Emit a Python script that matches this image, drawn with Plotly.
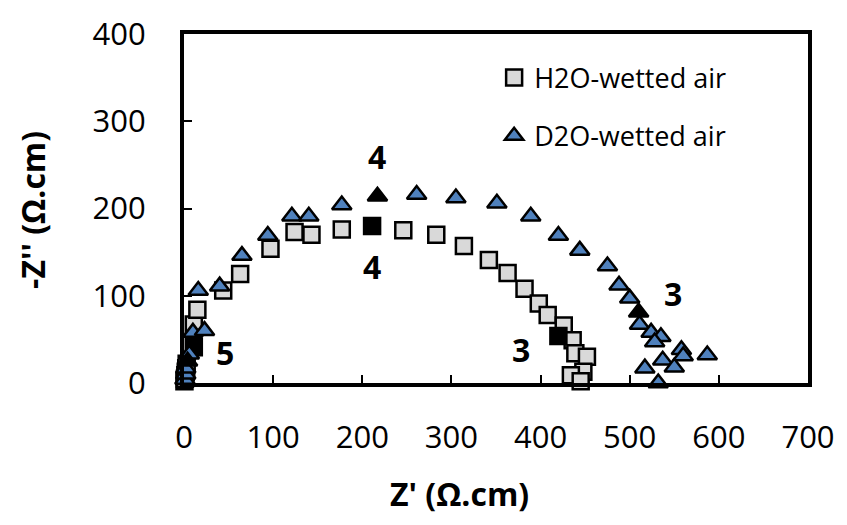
import plotly.graph_objects as go

# H2O-wetted air (grey squares)
h2o_x = [0.5, 1, 1.5, 2, 2.5, 3, 11, 15, 44, 63, 97, 124, 143, 177, 246, 283, 314, 342,
         363, 382, 398, 408, 426, 436, 439, 452, 448, 434, 445]
h2o_y = [2, 5, 9, 13, 17, 22, 67, 84, 106, 125, 154, 173, 170, 176, 175, 170, 157, 141,
         126, 108, 91, 78, 66, 49, 34, 30, 13, 9, 2]
# highlighted frequency points (black squares)
h2o_mark_x = [11, 211, 420]
h2o_mark_y = [41, 180, 54]

# D2O-wetted air (blue triangles)
d2o_x = [1, 2, 2, 6, 10, 23, 16, 40, 65, 94, 121, 140, 177, 261, 305, 351, 389, 420, 444,
         475, 488, 500, 511, 524, 535, 528, 558, 560, 537, 550, 587, 517, 532]
d2o_y = [4, 10, 17, 33, 58, 60, 106, 111, 146, 169, 191, 191, 204, 216, 212, 206, 191, 169,
         152, 134, 112, 97, 67, 58, 53, 47, 38, 31, 26, 18, 32, 17, 0]
d2o_mark_x = [4, 217, 510]
d2o_mark_y = [25, 214, 81]

# frequency decade labels
lab_text = ["4", "4", "5", "3", "3"]
lab_x = [217, 211, 46, 378, 548]
lab_y = [260, 134, 35, 38, 103]

FONT = "Open Sans"

fig = go.Figure()
fig.add_trace(go.Scatter(
    x=h2o_x, y=h2o_y, mode="markers", name="H2O-wetted air", legendgroup="a",
    marker=dict(symbol="square", size=16, color="#D9D9D9", line=dict(color="black", width=2.5)),
    cliponaxis=False))
fig.add_trace(go.Scatter(
    x=h2o_mark_x, y=h2o_mark_y, mode="markers", showlegend=False,
    marker=dict(symbol="square", size=16, color="black", line=dict(color="black", width=2.5)),
    cliponaxis=False))
fig.add_trace(go.Scatter(
    x=d2o_x, y=d2o_y, mode="markers", name="D2O-wetted air", legendgroup="b",
    marker=dict(symbol="triangle-up", size=17, color="#4F81BD", line=dict(color="black", width=2.5)),
    cliponaxis=False))
fig.add_trace(go.Scatter(
    x=d2o_mark_x, y=d2o_mark_y, mode="markers", showlegend=False,
    marker=dict(symbol="triangle-up", size=17, color="black", line=dict(color="black", width=2.5)),
    cliponaxis=False))

for t, x, y in zip(lab_text, lab_x, lab_y):
    fig.add_annotation(x=x, y=y, text="<b>%s</b>" % t, showarrow=False,
                       font=dict(family=FONT, size=32, color="black"))

fig.add_annotation(xref="paper", yref="paper", x=0.442, y=-0.316, text="<b>Z' (Ω.cm)</b>",
                   showarrow=False, font=dict(family=FONT, size=32, color="black"),
                   xanchor="center", yanchor="middle")
fig.add_annotation(xref="paper", yref="paper", x=-0.243, y=0.497, text="<b>-Z'' (Ω.cm)</b>",
                   showarrow=False, textangle=-90, font=dict(family=FONT, size=32, color="black"),
                   xanchor="center", yanchor="middle")

axis_common = dict(showline=True, linewidth=4, linecolor="black", mirror=True,
                   ticks="inside", ticklen=8, tickwidth=2, tickcolor="black",
                   showgrid=False, zeroline=False,
                   tickfont=dict(family=FONT, size=31, color="black"))
fig.update_xaxes(range=[0, 700], dtick=100, ticklabelstandoff=24, **axis_common)
fig.update_yaxes(range=[0, 400], dtick=100, ticklabelstandoff=28, **axis_common)

fig.update_layout(
    width=847, height=525,
    margin=dict(l=184, r=35, t=26, b=142),
    paper_bgcolor="white", plot_bgcolor="white",
    font=dict(family=FONT, color="black"),
    showlegend=True,
    legend=dict(x=0.497, y=0.944, xanchor="left", yanchor="top",
                font=dict(family=FONT, size=27, color="black"),
                tracegroupgap=20, bgcolor="rgba(0,0,0,0)"),
)

fig.write_html("out.html")
